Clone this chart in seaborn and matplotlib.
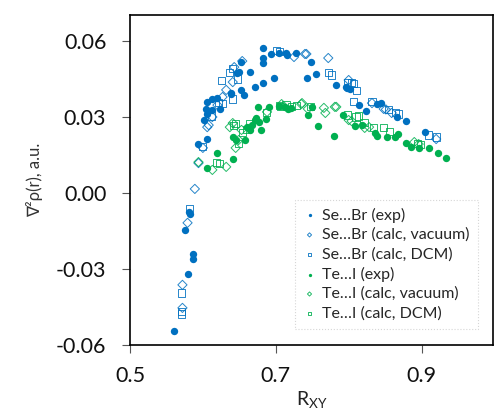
import pandas as pd
import seaborn as sns
import matplotlib.pyplot as plt

# Se...Br (exp)
se_exp_x = [0.560, 0.576, 0.581, 0.582, 0.579, 0.587, 0.587, 0.593, 0.602, 0.605,
            0.605, 0.604, 0.606, 0.612, 0.613, 0.620, 0.623, 0.638, 0.639, 0.653,
            0.656, 0.647, 0.650, 0.652, 0.665, 0.671, 0.682, 0.697, 0.682, 0.682,
            0.683, 0.694, 0.705, 0.714, 0.716, 0.728, 0.748, 0.743, 0.755, 0.783,
            0.796, 0.798, 0.802, 0.814, 0.824, 0.839, 0.844, 0.866, 0.878, 0.905]
se_exp_y = [-0.0545, -0.0146, -0.0075, -0.0083, -0.0320, -0.0241, -0.0261, 0.0193, 0.0288, 0.0213,
            0.0359, 0.0332, 0.0312, 0.0328, 0.0371, 0.0375, 0.0332, 0.0395, 0.0391, 0.0407,
            0.0387, 0.0474, 0.0478, 0.0517, 0.0478, 0.0418, 0.0434, 0.0454, 0.0533, 0.0513,
            0.0572, 0.0549, 0.0553, 0.0553, 0.0545, 0.0553, 0.0517, 0.0454, 0.0470, 0.0426,
            0.0418, 0.0414, 0.0410, 0.0347, 0.0324, 0.0351, 0.0355, 0.0300, 0.0284, 0.0241]

# Se...Br (calc, vacuum)
se_vac_x = [0.589, 0.579, 0.572, 0.572, 0.594, 0.600, 0.606, 0.608, 0.613, 0.620,
            0.627, 0.632, 0.641, 0.643, 0.654, 0.725, 0.740, 0.742, 0.772, 0.800,
            0.832, 0.848, 0.851, 0.859, 0.920]
se_vac_y = [0.0016, -0.0118, -0.0363, -0.0454, 0.0118, 0.0178, 0.0260, 0.0268, 0.0300, 0.0347,
            0.0379, 0.0407, 0.0438, 0.0497, 0.0521, 0.0537, 0.0549, 0.0549, 0.0533, 0.0446,
            0.0355, 0.0332, 0.0330, 0.0316, 0.0213]

# Se...Br (calc, DCM)
se_dcm_x = [0.582, 0.571, 0.571, 0.571, 0.600, 0.612, 0.621, 0.626, 0.637, 0.641,
            0.647, 0.641, 0.627, 0.701, 0.705, 0.772, 0.776, 0.798, 0.804, 0.807,
            0.811, 0.807, 0.832, 0.855, 0.864, 0.868, 0.910, 0.920]
se_dcm_y = [-0.0063, -0.0395, -0.0470, -0.0478, 0.0182, 0.0304, 0.0359, 0.0446, 0.0474, 0.0493,
            0.0450, 0.0371, 0.0355, 0.0564, 0.0557, 0.0474, 0.0466, 0.0438, 0.0438, 0.0434,
            0.0403, 0.0363, 0.0363, 0.0328, 0.0316, 0.0312, 0.0229, 0.0221]

# Te...I (exp)
te_exp_x = [0.605, 0.620, 0.641, 0.642, 0.646, 0.658, 0.661, 0.664, 0.668, 0.671,
            0.673, 0.677, 0.680, 0.676, 0.686, 0.691, 0.705, 0.712, 0.717, 0.721,
            0.750, 0.744, 0.758, 0.780, 0.792, 0.809, 0.818, 0.836, 0.839, 0.852,
            0.864, 0.867, 0.878, 0.885, 0.896, 0.910, 0.922, 0.933]
te_exp_y = [0.0099, 0.0158, 0.0134, 0.0221, 0.0209, 0.0209, 0.0260, 0.0249, 0.0268, 0.0288,
            0.0296, 0.0280, 0.0249, 0.0340, 0.0292, 0.0340, 0.0343, 0.0338, 0.0332, 0.0336,
            0.0340, 0.0308, 0.0264, 0.0225, 0.0308, 0.0264, 0.0268, 0.0237, 0.0225, 0.0221,
            0.0221, 0.0233, 0.0197, 0.0182, 0.0178, 0.0178, 0.0158, 0.0138]

# Te...I (calc, vacuum)
te_vac_x = [0.594, 0.613, 0.632, 0.645, 0.637, 0.653, 0.649, 0.641, 0.688, 0.708,
            0.735, 0.736, 0.744, 0.766, 0.768, 0.781, 0.783, 0.800, 0.804, 0.822,
            0.828, 0.890, 0.896]
te_vac_y = [0.0122, 0.0091, 0.0103, 0.0178, 0.0260, 0.0249, 0.0209, 0.0276, 0.0320, 0.0351,
            0.0351, 0.0355, 0.0332, 0.0336, 0.0316, 0.0340, 0.0340, 0.0288, 0.0284, 0.0257,
            0.0260, 0.0201, 0.0193]

# Te...I (calc, DCM)
te_dcm_x = [0.619, 0.623, 0.642, 0.649, 0.660, 0.645, 0.664, 0.654, 0.687, 0.705,
            0.707, 0.714, 0.721, 0.728, 0.748, 0.798, 0.810, 0.814, 0.821, 0.834,
            0.848, 0.856, 0.895, 0.899]
te_dcm_y = [0.0122, 0.0118, 0.0268, 0.0197, 0.0249, 0.0276, 0.0276, 0.0237, 0.0316, 0.0347,
            0.0343, 0.0351, 0.0343, 0.0347, 0.0343, 0.0308, 0.0300, 0.0304, 0.0280, 0.0260,
            0.0260, 0.0241, 0.0197, 0.0193]

blue = '#0070C0'
green = '#00B050'

sns.set_style('white')
plt.rcParams['font.family'] = ['Lato', 'DejaVu Sans']

fig = plt.figure(figsize=(4.96, 4.16), dpi=100)
ax = fig.add_axes([0.262, 0.171, 0.732, 0.793])

series = [
    (se_exp_x, se_exp_y, 'Se…Br (exp)', blue, 'o', True),
    (se_vac_x, se_vac_y, 'Se…Br (calc, vacuum)', blue, 'D', False),
    (se_dcm_x, se_dcm_y, 'Se…Br (calc, DCM)', blue, 's', False),
    (te_exp_x, te_exp_y, 'Te…I (exp)', green, 'o', True),
    (te_vac_x, te_vac_y, 'Te…I (calc, vacuum)', green, 'D', False),
    (te_dcm_x, te_dcm_y, 'Te…I (calc, DCM)', green, 's', False),
]

for xs, ys, lab, col, mk, filled in series:
    df = pd.DataFrame({'x': xs, 'y': ys})
    if filled:
        sns.scatterplot(data=df, x='x', y='y', ax=ax, color=col, marker=mk,
                        s=28, linewidth=0, label=lab)
    else:
        sns.scatterplot(data=df, x='x', y='y', ax=ax, marker=mk, s=22 if mk == 'D' else 26,
                        facecolor='none', edgecolor=col, linewidth=0.7,
                        alpha=0.85, label=lab)

ax.set_xlim(0.5, 0.998)
ax.set_ylim(-0.06, 0.0703)
ax.set_xticks([0.5, 0.7, 0.9])
ax.set_xticklabels(['0.5', '0.7', '0.9'])
ax.set_yticks([-0.06, -0.03, 0.0, 0.03, 0.06])
ax.set_yticklabels(['-0.06', '-0.03', '0.00', '0.03', '0.06'])
ax.tick_params(axis='both', which='major', labelsize=15.5, length=6, width=0.8,
               color='#555555', direction='out', bottom=True, left=True,
               labelcolor='#111111')
ax.tick_params(axis='y', pad=11)
ax.tick_params(axis='x', pad=9)

for sp in ax.spines.values():
    sp.set_color('black')
    sp.set_linewidth(1.2)

ax.set_xlabel('R$_\\mathregular{XY}$', fontsize=14, color='#222222', labelpad=3)
ax.set_ylabel('∇²ρ(r), a.u.', fontsize=12, color='#333333', labelpad=9)

leg = ax.legend(loc='lower right', bbox_to_anchor=(0.98, 0.025), fontsize=11.5,
                markerscale=0.45, handletextpad=0.4, handlelength=0.8,
                labelspacing=0.32, borderpad=0.5, frameon=True, fancybox=False)
leg.get_frame().set_edgecolor('#cccccc')
leg.get_frame().set_linestyle(':')
leg.get_frame().set_linewidth(0.8)

plt.savefig('out.png', dpi=100)
